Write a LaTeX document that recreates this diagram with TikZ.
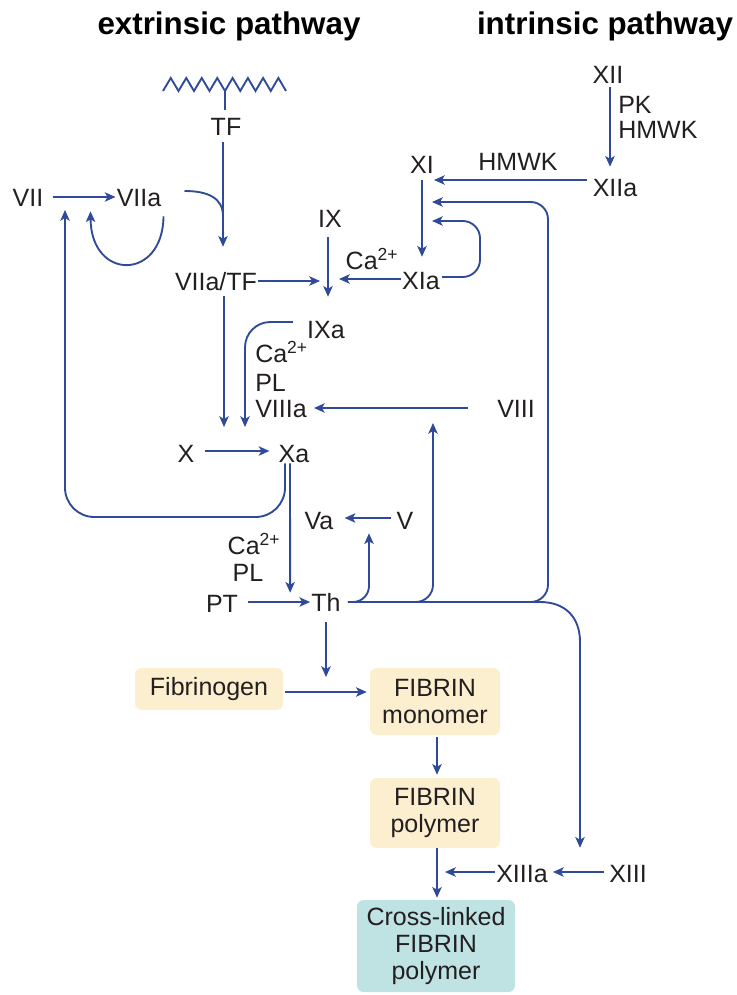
\documentclass[tikz,border=0pt]{standalone}
\usepackage{fontspec}
\setmainfont{Liberation Sans}
\usetikzlibrary{arrows.meta}
\definecolor{arrowblue}{RGB}{46,74,152}
\definecolor{inkc}{RGB}{35,31,32}
\definecolor{cream}{RGB}{252,239,208}
\definecolor{tealbox}{RGB}{190,227,226}
\begin{document}
\begin{tikzpicture}[x=0.75pt,y=-0.75pt,
  lab/.style={inner sep=0pt, text height=13.5pt, text depth=0pt, font=\fontsize{18.75}{20.5}\selectfont, text=inkc},
  ttl/.style={inner sep=0pt, font=\fontsize{23.5}{28}\selectfont\bfseries, text=black, anchor=base},
  con/.style={draw=arrowblue, line width=1.4pt},
  arr/.style={con, -{Stealth[length=8pt,width=7pt,inset=2pt]}},
  fbox/.style={inner sep=0pt, font=\fontsize{18.75}{20.5}\selectfont, text=inkc, align=center, rounded corners=5pt}
]
\useasboundingbox (0,0) rectangle (736,995);

% titles
\node[ttl] (ext) at (229,35) {extrinsic pathway};
\node[ttl] (int) at (605,35) {intrinsic pathway};

% membrane zigzag
\draw[con, line join=miter] (163,91) -- (170.75,78) -- (178.5,91) -- (186.25,78) -- (194,91) -- (201.75,78) -- (209.5,91) -- (217.25,78) -- (225,91) -- (232.6,78) -- (240.25,91) -- (247.9,78) -- (255.5,91) -- (263.1,78) -- (270.75,91) -- (278.4,78) -- (286,91);
\coordinate (zig) at (225,91);

% labels
\node[lab] (TF) at (226,127) {TF};
\node[lab] (VII) at (28,197) {VII};
\node[lab] (VIIa) at (139,197) {VIIa};
\node[lab] (VIIaTF) at (216,281) {VIIa/TF};
\node[lab] (IX) at (330,218) {IX};
\node[lab] (caA) at (372,260) {Ca\textsuperscript{2+}};
\node[lab] (XIa) at (421,280) {XIa};
\node[lab] (XI) at (422,165) {XI};
\node[lab] (hmwkA) at (518,162) {HMWK};
\node[lab] (XII) at (608,75) {XII};
\node[lab, anchor=west] (PK) at (618,105) {PK};
\node[lab, anchor=west] (hmwkB) at (618,130) {HMWK};
\node[lab] (XIIa) at (615,187) {XIIa};
\node[lab] (IXa) at (326,329) {IXa};
\node[lab, anchor=west] (caB) at (255,353) {Ca\textsuperscript{2+}};
\node[lab, anchor=west] (plB) at (255,382) {PL};
\node[lab, anchor=west] (VIIIa) at (255,408) {VIIIa};
\node[lab] (VIII) at (516,408) {VIII};
\node[lab] (X) at (186,453) {X};
\node[lab] (Xa) at (294,453) {Xa};
\node[lab] (Va) at (319,520) {Va};
\node[lab] (V) at (405,520) {V};
\node[lab] (caC) at (254,545) {Ca\textsuperscript{2+}};
\node[lab] (plC) at (248,572) {PL};
\node[lab] (PT) at (222,603) {PT};
\node[lab] (Th) at (326,602) {Th};
\node[lab] (XIIIa) at (522,873) {XIIIa};
\node[lab] (XIII) at (628,873) {XIII};

% boxes
\node[fbox, fill=cream, minimum width=111pt, minimum height=31.5pt] (fib) at (209,689) {Fibrinogen};
\node[fbox, fill=cream, minimum width=97.5pt, minimum height=50.25pt] (mono) at (435,701.5) {FIBRIN\\monomer};
\node[fbox, fill=cream, minimum width=97.5pt, minimum height=52.5pt] (poly) at (435,813) {FIBRIN\\polymer};
\node[fbox, fill=tealbox, minimum width=118.5pt, minimum height=69pt] (cross) at (436,946) {Cross-linked\\FIBRIN\\polymer};

% free-end coordinates
\coordinate (ixL) at (320,281);
\coordinate (ixR) at (339,279);
\coordinate (tfL) at (223,216);
\coordinate (xiA) at (434,180);
\coordinate (xiB) at (432,202);
\coordinate (xiC) at (432,221);
\coordinate (xdown) at (224,427);
\coordinate (ixadown) at (245,427);
\coordinate (viiup) at (65,210);
\coordinate (viiiup) at (433,423);
\coordinate (thdown) at (326,677);
\coordinate (polyR) at (445,872);
\coordinate (b1) at (400,602);
\coordinate (b2) at (515,602);
\coordinate (turn) at (540,602);

% extrinsic
\draw[con] (zig) -- ([shift={(-1,-8)}]TF.north);
\draw[arr] ([shift={(-3,6)}]TF.south) -- ([shift={(7,-25)}]VIIaTF.north);
\draw[con] ([shift={(23,-6)}]VIIa.east) .. controls (208,191) and (223,198) .. (tfL);
\draw[arr] ([shift={(2,10)}]VIIa.south east) .. controls (163,281) and (91,281) .. ([shift={(-26,5)}]VIIa.south west);
\draw[arr] ([shift={(9,0)}]VII.east) -- ([shift={(-1,0)}]VIIa.west);
\draw[arr] ([shift={(1,0)}]VIIaTF.east) -- (ixL);
\draw[arr] ([shift={(8,6)}]VIIaTF.south) -- (xdown);

% intrinsic
\draw[arr] ([shift={(2,3)}]XII.south) -- ([shift={(-5,-11)}]XIIa.north);
\draw[arr] ([shift={(-6,-7)}]XIIa.west) -- (xiA);
\draw[arr] ([shift={(0,6)}]XI.south) -- ([shift={(1,-14)}]XIa.north);
\draw[arr, rounded corners=13pt] ([shift={(2,-3)}]XIa.east) -| (480,221) -- (xiC);
\draw[arr] ([shift={(-1,-1)}]XIa.west) -- (ixR);
\draw[arr] ([shift={(-2,10)}]IX.south) -- ([shift={(2,-23)}]IXa.north);
\draw[arr, rounded corners=19pt] ([shift={(-14,-7)}]IXa.west) -| (ixadown);
\draw[arr] ([shift={(-29,0)}]VIII.west) -- ([shift={(7,0)}]VIIIa.east);

% common
\draw[arr] ([shift={(10,-2)}]X.east) -- ([shift={(-9,-2)}]Xa.west);
\draw[arr, rounded corners=22pt] ([shift={(-9,1)}]Xa.south) |- (65,517) -- (viiup);
\draw[arr] ([shift={(-4,1)}]Xa.south) -- ([shift={(-21,0)}]Th.north west);
\draw[arr] ([shift={(10,-1)}]PT.east) -- ([shift={(-1,0)}]Th.west);
\draw[arr, rounded corners=12pt] ([shift={(7,0)}]Th.east) -| ([shift={(50,4)}]Va.south);
\draw[arr] ([shift={(-5,-2)}]V.west) -- ([shift={(11,-2)}]Va.east);
\draw[arr] ([shift={(7,0)}]Th.east) -- (turn) .. controls (565,602) and (580,617) .. (580,642) -- ([shift={(58,-16)}]XIIIa.north);
\draw[arr, rounded corners=13pt] (b1) -| (viiiup);
\draw[arr, rounded corners=13pt] (b2) -| (548,202) -- (xiB);
\draw[arr] ([shift={(-5,-1)}]XIII.west) -- ([shift={(5,-1)}]XIIIa.east);
\draw[arr] ([shift={(-1,-1)}]XIIIa.west) -- (polyR);

% fibrin
\draw[arr] ([shift={(0,11)}]Th.south) -- (thdown);
\draw[arr] ([shift={(2,3)}]fib.east) -- ([shift={(-3,-9.5)}]mono.west);
\draw[arr] ([shift={(2,2)}]mono.south) -- ([shift={(2,-3)}]poly.north);
\draw[arr] ([shift={(2,0)}]poly.south) -- ([shift={(1,-2)}]cross.north);
\end{tikzpicture}
\end{document}
